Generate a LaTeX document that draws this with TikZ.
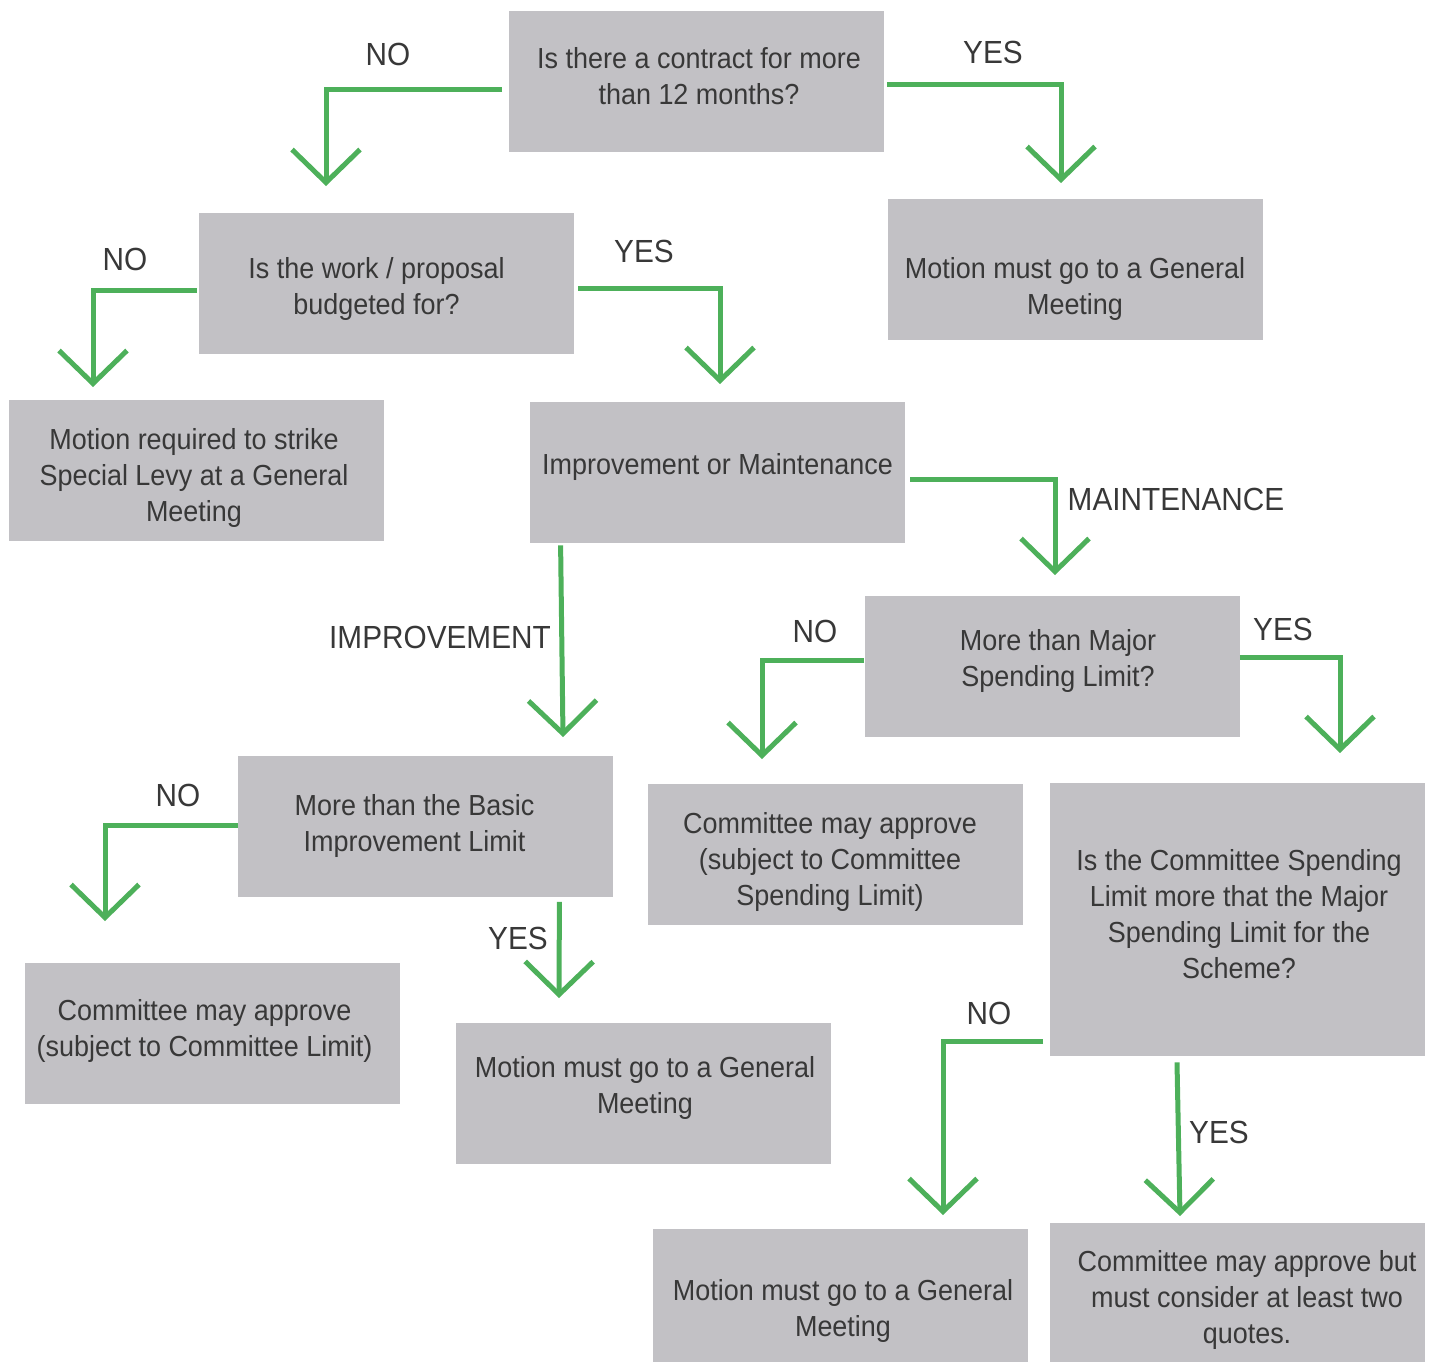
\documentclass[tikz,border=0pt]{standalone}
\usepackage{fontspec}
\setmainfont{Liberation Sans}[FakeStretch=0.93]
\usetikzlibrary{arrows.meta,calc}
\definecolor{boxgray}{HTML}{C2C1C5}
\definecolor{txtgray}{HTML}{383838}
\definecolor{flowgreen}{HTML}{4DB05A}
\tikzset{
  box/.style={fill=boxgray, draw=none, inner sep=0pt,
    minimum width=187.5pt, minimum height=70.5pt},
  btxt/.style={align=center, text=txtgray, inner sep=0pt,
    font=\fontsize{14.5}{18}\selectfont},
  lbl/.style={text=txtgray, inner sep=0pt, font=\fontsize{16}{20}\selectfont},
  flow/.style={draw=flowgreen, line width=2.5pt, line join=miter,
    -{Straight Barb[length=16.5pt,width=34pt,line width=2.5pt]}}
}
\begin{document}
\begin{tikzpicture}[x=0.5pt,y=-0.5pt]
\useasboundingbox (0,0) rectangle (1434,1361);
% boxes
\node[box, label={[btxt, shift={(3,-5)}]center:Is there a contract for more\\than 12 months?}] (q1) at (696,81) {};
\node[box, label={[btxt, shift={(-10,5)}]center:Is the work / proposal\\budgeted for?}] (q2) at (386.5,283.5) {};
\node[box, label={[btxt, shift={(0,19)}]center:Motion must go to a General\\Meeting}] (gm1) at (1075,269.5) {};
\node[box, label={[btxt, shift={(-2,7)}]center:Motion required to strike\\Special Levy at a General\\Meeting}] (levy) at (196,470.5) {};
\node[box, label={[btxt, shift={(0,-6)}]center:Improvement or Maintenance}] (im) at (717.5,472.5) {};
\node[box, label={[btxt, shift={(6,-6)}]center:More than Major\\Spending Limit?}] (major) at (1052,666.5) {};
\node[box, label={[btxt, shift={(-11,0)}]center:More than the Basic\\Improvement Limit}] (basic) at (425.5,826) {};
\node[box, label={[btxt, shift={(-5,7)}]center:Committee may approve\\(subject to Committee\\Spending Limit)}] (cmsl) at (835,854.5) {};
\node[box, minimum height=136.5pt, label={[btxt, shift={(2,-5)}]center:Is the Committee Spending\\Limit more that the Major\\Spending Limit for the\\Scheme?}] (csl) at (1237,919.5) {};
\node[box, label={[btxt, shift={(-8,-2)}]center:Committee may approve\\(subject to Committee Limit)}] (cl) at (212.5,1033) {};
\node[box, label={[btxt, shift={(2,-5)}]center:Motion must go to a General\\Meeting}] (gm2) at (643,1093) {};
\node[box, label={[btxt, shift={(3,12)}]center:Motion must go to a General\\Meeting}] (gm3) at (840,1299) {};
\node[box, label={[btxt, shift={(10,7)}]center:Committee may approve but\\must consider at least two\\quotes.}] (quotes) at (1237,1293) {};
% arrow ends
\coordinate (e1) at (326,186);
\coordinate (e2) at (1061,183);
\coordinate (e3) at (93,387);
\coordinate (e4) at (720,384);
\coordinate (e5) at (1055,575);
\coordinate (e6) at (563,737);
\coordinate (e7) at (762,759);
\coordinate (e8) at (1340,753);
\coordinate (e9) at (105,921);
\coordinate (e10) at (559,998);
\coordinate (e11) at (943,1215);
\coordinate (e12) at (1180,1216);
% connectors
\draw[flow] ($(q1.west)+(-6,8)$) -| (e1);
\draw[flow] ($(q1.east)+(3,3)$) -| (e2);
\draw[flow] ($(q2.west)+(-2,7)$) -| (e3);
\draw[flow] ($(q2.east)+(4,4.5)$) -| (e4);
\draw[flow] ($(im.east)+(5,6.5)$) -| (e5);
\draw[flow] ($(im.south west)+(31,2)$) -- (e6);
\draw[flow] ($(major.west)+(0,-6.5)$) -| (e7);
\draw[flow] ($(major.east)+(0,-9.5)$) -| (e8);
\draw[flow] ($(basic.west)+(0,-1)$) -| (e9);
\draw[flow] ($(basic.south east)+(-54,5)$) -- (e10);
\draw[flow] ($(csl.south west)+(-6,-15)$) -| (e11);
\draw[flow] ($(csl.south)+(-60,6)$) -- (e12);
% labels
\node[lbl] (l1) at (388,54) {NO};
\node[lbl] (l2) at (993,52) {YES};
\node[lbl] (l3) at (125,259) {NO};
\node[lbl] (l4) at (644,251) {YES};
\node[lbl] (l5) at (1176,499) {MAINTENANCE};
\node[lbl] (l6) at (440,637) {IMPROVEMENT};
\node[lbl] (l7) at (815,631) {NO};
\node[lbl] (l8) at (1283,629) {YES};
\node[lbl] (l9) at (178,795) {NO};
\node[lbl] (l10) at (518,938) {YES};
\node[lbl] (l11) at (989,1013) {NO};
\node[lbl] (l12) at (1219,1132) {YES};
\end{tikzpicture}
\end{document}
